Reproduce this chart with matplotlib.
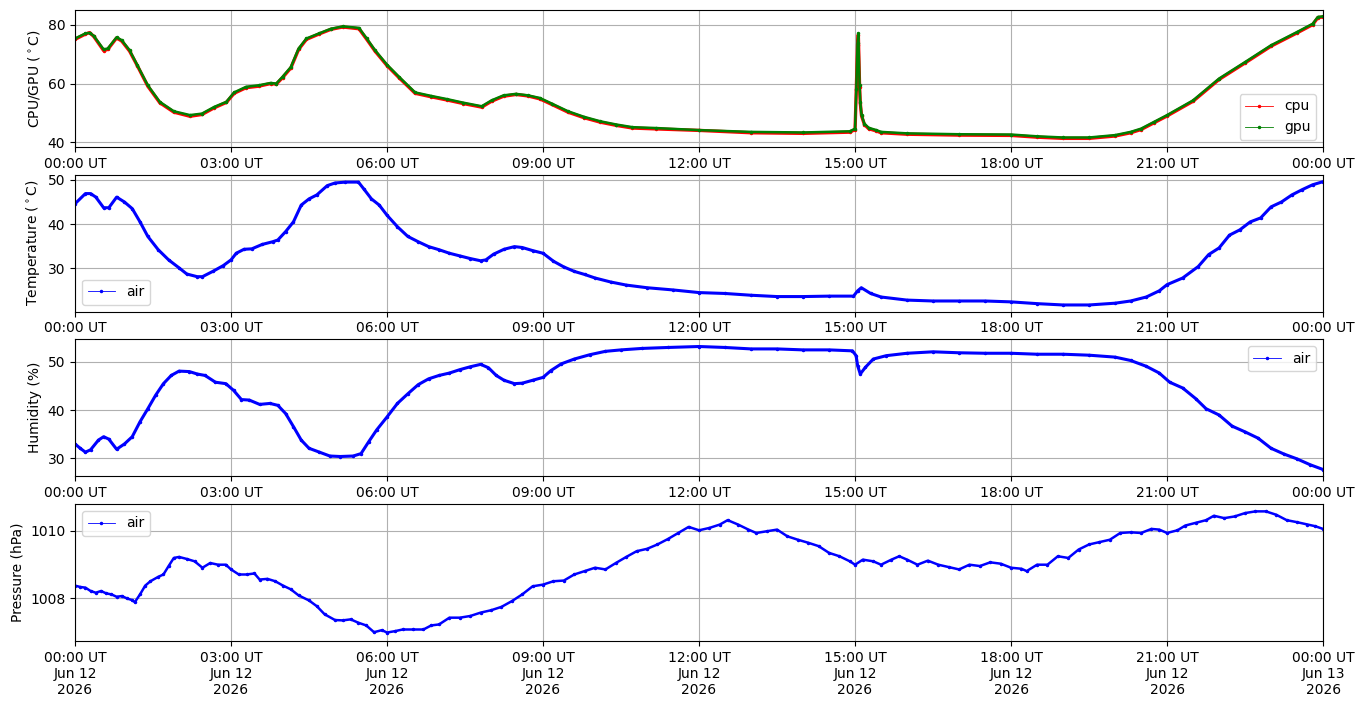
import datetime as dt
import matplotlib
matplotlib.use("Agg")
import matplotlib.pyplot as plt
import matplotlib.dates as mdates

# ---------------- data (hours since 2026-06-12 00:00 UT) ----------------
t_cg = [0, 0.2, 0.28, 0.36, 0.55, 0.63, 0.8, 0.9, 1.05, 1.2,
        1.4, 1.63, 1.9, 2.21, 2.44, 2.68, 2.91, 3.06, 3.29, 3.53,
        3.76, 3.87, 3.99, 4.15, 4.3, 4.45, 4.69, 4.92, 5.15, 5.46,
        5.61, 5.77, 6.0, 6.23, 6.54, 6.85, 7.16, 7.47, 7.82, 8.01,
        8.24, 8.48, 8.71, 8.94, 9.17, 9.48, 9.79, 10.1, 10.41, 10.72,
        11.18, 12.0, 13.0, 14.0, 14.9, 15.0, 15.024, 15.048, 15.063, 15.087,
        15.10, 15.125, 15.18, 15.26, 15.41, 15.5, 16, 17, 18, 18.5,
        19, 19.5, 20, 20.3, 20.5, 20.75, 21, 21.5, 22, 22.5,
        23, 23.5, 23.8, 23.9, 24]
cpu = [75.0, 76.8, 77.3, 76.0, 71.2, 71.6, 75.5, 74.4, 71.0, 66.0,
       59.1, 53.5, 50.3, 48.9, 49.5, 51.8, 53.6, 56.7, 58.6, 59.1,
       60.0, 59.8, 62.0, 65.3, 71.6, 75.0, 76.8, 78.4, 79.2, 78.6,
       75.0, 71.0, 66.1, 62.0, 56.7, 55.5, 54.4, 53.2, 52.0, 54.0,
       55.7, 56.3, 55.8, 54.8, 52.9, 50.3, 48.4, 46.9, 45.8, 44.9,
       44.6, 44.1, 43.3, 43.1, 43.5, 44.4, 57.9, 73.2, 76.6, 59.0,
       53.5, 49.0, 46.1, 44.7, 43.9, 43.3, 42.8, 42.5, 42.4, 41.8,
       41.4, 41.4, 42.2, 43.3, 44.4, 46.7, 49.0, 54.0, 61.4, 67.0,
       72.7, 77.2, 80.0, 82.4, 82.6]
gpu = [75.3, 77.0, 77.2, 76.2, 71.6, 71.9, 75.7, 74.7, 71.3, 66.2,
       59.4, 53.8, 50.6, 49.3, 49.8, 52.1, 53.8, 57.0, 58.9, 59.4,
       60.2, 60.0, 62.3, 65.6, 71.9, 75.3, 77.0, 78.6, 79.4, 78.9,
       75.3, 71.3, 66.4, 62.3, 57.0, 55.8, 54.7, 53.5, 52.3, 54.3,
       56.0, 56.5, 56.0, 55.1, 53.2, 50.6, 48.7, 47.2, 46.1, 45.2,
       44.9, 44.2, 43.6, 43.4, 43.8, 44.7, 58.3, 73.6, 77.0, 59.4,
       53.8, 49.3, 46.4, 45.0, 44.2, 43.6, 43.1, 42.8, 42.7, 42.1,
       41.7, 41.7, 42.5, 43.6, 44.7, 47.0, 49.3, 54.3, 61.7, 67.3,
       73.0, 77.5, 80.3, 82.6, 82.8]

t_temp = [0, 0.2, 0.3, 0.4, 0.55, 0.65, 0.8, 0.95, 1.1, 1.25,
          1.4, 1.6, 1.8, 2.0, 2.15, 2.35, 2.45, 2.65, 2.85, 3.0,
          3.1, 3.25, 3.4, 3.6, 3.8, 3.9, 4.05, 4.2, 4.35, 4.5,
          4.65, 4.85, 5.0, 5.2, 5.45, 5.55, 5.7, 5.85, 6.0, 6.2,
          6.4, 6.6, 6.8, 7.0, 7.2, 7.4, 7.6, 7.8, 7.9, 8.05,
          8.25, 8.45, 8.6, 8.8, 9.0, 9.2, 9.4, 9.6, 9.8, 10.0,
          10.3, 10.6, 11.0, 11.5, 12.0, 12.5, 13, 13.5, 14, 14.5,
          14.97, 15.05, 15.12, 15.3, 15.5, 16, 16.5, 17, 17.5, 18,
          18.5, 19, 19.5, 20, 20.3, 20.6, 20.85, 21, 21.3, 21.6,
          21.8, 22, 22.2, 22.4, 22.6, 22.8, 23, 23.2, 23.4, 23.6,
          23.8, 24]
temp = [44.6, 46.9, 46.9, 46.1, 43.7, 43.7, 46.1, 45.0, 43.5, 40.5,
        37.2, 34.2, 31.9, 30.1, 28.7, 28.1, 28.1, 29.3, 30.6, 31.9,
        33.4, 34.3, 34.4, 35.4, 36.0, 36.4, 38.3, 40.5, 44.3, 45.7,
        46.6, 48.7, 49.3, 49.5, 49.5, 48.0, 45.7, 44.3, 42.0, 39.4,
        37.2, 36.0, 34.9, 34.2, 33.4, 32.8, 32.2, 31.7, 31.9, 33.2,
        34.3, 34.9, 34.7, 34.0, 33.4, 31.6, 30.3, 29.3, 28.6, 27.8,
        26.9, 26.2, 25.6, 25.1, 24.5, 24.3, 23.9, 23.6, 23.6, 23.7,
        23.7, 24.9, 25.6, 24.3, 23.5, 22.8, 22.6, 22.6, 22.6, 22.4,
        22.0, 21.7, 21.7, 22.1, 22.6, 23.5, 24.9, 26.3, 27.8, 30.4,
        33.1, 34.6, 37.5, 38.7, 40.5, 41.4, 43.9, 45.0, 46.6, 47.8,
        48.9, 49.6]

t_hum = [0, 0.1, 0.2, 0.3, 0.45, 0.55, 0.65, 0.8, 0.95, 1.1,
         1.25, 1.4, 1.55, 1.7, 1.85, 2.0, 2.2, 2.35, 2.5, 2.7,
         2.9, 3.05, 3.2, 3.35, 3.55, 3.75, 3.9, 4.05, 4.2, 4.35,
         4.5, 4.7, 4.9, 5.1, 5.35, 5.5, 5.65, 5.8, 6.0, 6.2,
         6.4, 6.6, 6.8, 7.0, 7.2, 7.4, 7.6, 7.8, 7.95, 8.1,
         8.25, 8.45, 8.6, 8.8, 9.0, 9.15, 9.35, 9.6, 9.9, 10.2,
         10.5, 10.9, 11.4, 12.0, 12.5, 13, 13.5, 14, 14.5, 14.95,
         15.02, 15.05, 15.1, 15.2, 15.35, 15.6, 16, 16.5, 17, 17.5,
         18, 18.5, 19, 19.5, 20, 20.3, 20.6, 20.85, 21.05, 21.3,
         21.55, 21.75, 22, 22.25, 22.5, 22.75, 23, 23.25, 23.5, 23.75,
         24]
hum = [33.0, 32.1, 31.3, 31.8, 33.8, 34.5, 34.0, 31.9, 33.0, 34.5,
       37.6, 40.3, 43.1, 45.5, 47.2, 48.1, 48.0, 47.5, 47.2, 45.8,
       45.5, 44.1, 42.2, 42.1, 41.2, 41.4, 41.0, 39.3, 36.6, 33.8,
       32.1, 31.3, 30.5, 30.4, 30.5, 31.0, 33.5, 35.9, 38.6, 41.4,
       43.4, 45.3, 46.5, 47.2, 47.7, 48.4, 49.0, 49.5, 48.8, 47.2,
       46.2, 45.5, 45.6, 46.2, 46.8, 48.2, 49.6, 50.6, 51.5, 52.2,
       52.5, 52.8, 53.0, 53.2, 53.0, 52.7, 52.7, 52.5, 52.5, 52.3,
       51.3, 49.2, 47.5, 48.9, 50.6, 51.3, 51.8, 52.1, 51.9, 51.8,
       51.8, 51.6, 51.6, 51.4, 51.0, 50.3, 49.1, 47.7, 45.8, 44.6,
       42.4, 40.3, 39.0, 36.7, 35.5, 34.2, 32.1, 30.9, 29.9, 28.7,
       27.7]

t_pres = [0, 0.1, 0.2, 0.3, 0.4, 0.5, 0.6, 0.7, 0.8, 0.9, 1.0,
          1.1, 1.15, 1.25, 1.35, 1.45, 1.6, 1.7, 1.8, 1.9, 2.0,
          2.15, 2.3, 2.45, 2.6, 2.75, 2.9, 3.0, 3.15, 3.3, 3.45,
          3.55, 3.7, 3.85, 4.0, 4.15, 4.3, 4.5, 4.65, 4.8, 5.0,
          5.15, 5.3, 5.45, 5.6, 5.75, 5.9, 6.0, 6.15, 6.3, 6.5,
          6.7, 6.85, 7.0, 7.2, 7.4, 7.6, 7.8, 8.0, 8.2, 8.4,
          8.6, 8.8, 9.0, 9.2, 9.4, 9.6, 9.8, 10.0, 10.2, 10.4,
          10.6, 10.8, 11.0, 11.2, 11.4, 11.6, 11.8, 12.0,
          12.2, 12.4, 12.55, 12.75, 12.95, 13.1, 13.3, 13.5, 13.7, 13.9,
          14.1, 14.3, 14.5, 14.7, 14.9, 15.0, 15.15, 15.35, 15.5, 15.7,
          15.85, 16.0, 16.2, 16.4, 16.6, 16.8, 17.0, 17.2, 17.4, 17.6,
          17.8, 18.0, 18.2, 18.3, 18.5, 18.7, 18.9, 19.1, 19.3, 19.5,
          19.7, 19.9, 20.1, 20.3, 20.5, 20.7, 20.85, 21.0, 21.2, 21.35,
          21.55, 21.75, 21.9, 22.1, 22.3, 22.5, 22.7, 22.9, 23.1, 23.3,
          23.5, 23.7, 23.85, 24]
pres = [1008.38, 1008.34, 1008.32, 1008.22, 1008.17, 1008.22, 1008.15, 1008.12, 1008.05, 1008.07, 1008.00,
        1007.95, 1007.89, 1008.12, 1008.38, 1008.51, 1008.64, 1008.71, 1008.96, 1009.20, 1009.23,
        1009.17, 1009.10, 1008.91, 1009.05, 1009.00, 1009.00, 1008.86, 1008.71, 1008.71, 1008.74,
        1008.56, 1008.58, 1008.51, 1008.38, 1008.27, 1008.09, 1007.94, 1007.77, 1007.53, 1007.36,
        1007.35, 1007.38, 1007.28, 1007.20, 1007.00, 1007.06, 1006.99, 1007.03, 1007.08, 1007.08,
        1007.08, 1007.20, 1007.23, 1007.43, 1007.43, 1007.48, 1007.58, 1007.65, 1007.75, 1007.92,
        1008.12, 1008.36, 1008.41, 1008.51, 1008.53, 1008.71, 1008.81, 1008.91, 1008.86, 1009.05,
        1009.23, 1009.40, 1009.47, 1009.60, 1009.76, 1009.94, 1010.12, 1010.02,
        1010.09, 1010.19, 1010.32, 1010.19, 1010.04, 1009.94, 1009.99, 1010.04, 1009.84, 1009.74,
        1009.65, 1009.55, 1009.35, 1009.25, 1009.10, 1009.00, 1009.15, 1009.10, 1009.00, 1009.15,
        1009.25, 1009.15, 1009.00, 1009.12, 1009.00, 1008.93, 1008.86, 1009.00, 1008.96, 1009.07,
        1009.03, 1008.91, 1008.88, 1008.81, 1009.00, 1009.00, 1009.25, 1009.20, 1009.45, 1009.60,
        1009.67, 1009.74, 1009.94, 1009.96, 1009.94, 1010.06, 1010.04, 1009.94, 1010.02, 1010.16,
        1010.24, 1010.32, 1010.45, 1010.38, 1010.43, 1010.53, 1010.58, 1010.58, 1010.48, 1010.32,
        1010.26, 1010.19, 1010.14, 1010.06]

ylabels = [r"CPU/GPU ($^\circ$C)", r"Temperature ($^\circ$C)", "Humidity (%)", "Pressure (hPa)"]

# ---------------- plotting ----------------
t0 = dt.datetime(2026, 6, 12)
def to_dt(hours):
    return [t0 + dt.timedelta(hours=h) for h in hours]

fig, axes = plt.subplots(4, 1, figsize=(13.64, 7.07), dpi=100)
fig.subplots_adjust(left=0.055, right=0.970, top=0.986, bottom=0.0934, hspace=0.202)

ax = axes[0]
ax.plot(to_dt(t_cg), cpu, color="r", marker=".", ms=3, lw=2.4, label="cpu")
ax.plot(to_dt(t_cg), gpu, color="g", marker=".", ms=3, lw=1.8, label="gpu")
ax.set_ylim(38.5, 85.0)
leg = ax.legend(loc="lower right")

ax = axes[1]
ax.plot(to_dt(t_temp), temp, color="b", marker=".", ms=3, lw=2.2, label="air")
ax.set_ylim(20.2, 51.2)
leg2 = ax.legend(loc="lower left")

ax = axes[2]
ax.plot(to_dt(t_hum), hum, color="b", marker=".", ms=3, lw=2.2, label="air")
ax.set_ylim(26.3, 54.7)
leg3 = ax.legend(loc="upper right")

ax = axes[3]
ax.plot(to_dt(t_pres), pres, color="b", marker=".", ms=3, lw=1.8, label="air")
ax.set_ylim(1006.74, 1010.8)
leg4 = ax.legend(loc="upper left")

for lg in (leg, leg2, leg3, leg4):
    for ln in lg.get_lines():
        ln.set_linewidth(0.6)
        ln.set_markersize(3)

for i, ax in enumerate(axes):
    ax.set_xlim(t0, t0 + dt.timedelta(hours=24))
    ax.xaxis.set_major_locator(mdates.HourLocator(byhour=range(0, 24, 3)))
    if i < 3:
        ax.xaxis.set_major_formatter(mdates.DateFormatter("%H:%M UT"))
    else:
        ax.xaxis.set_major_formatter(mdates.DateFormatter("%H:%M UT\n%b %d\n%Y"))
    ax.grid(True)
    ax.set_ylabel(ylabels[i])

fig.savefig("out.png", dpi=100)
